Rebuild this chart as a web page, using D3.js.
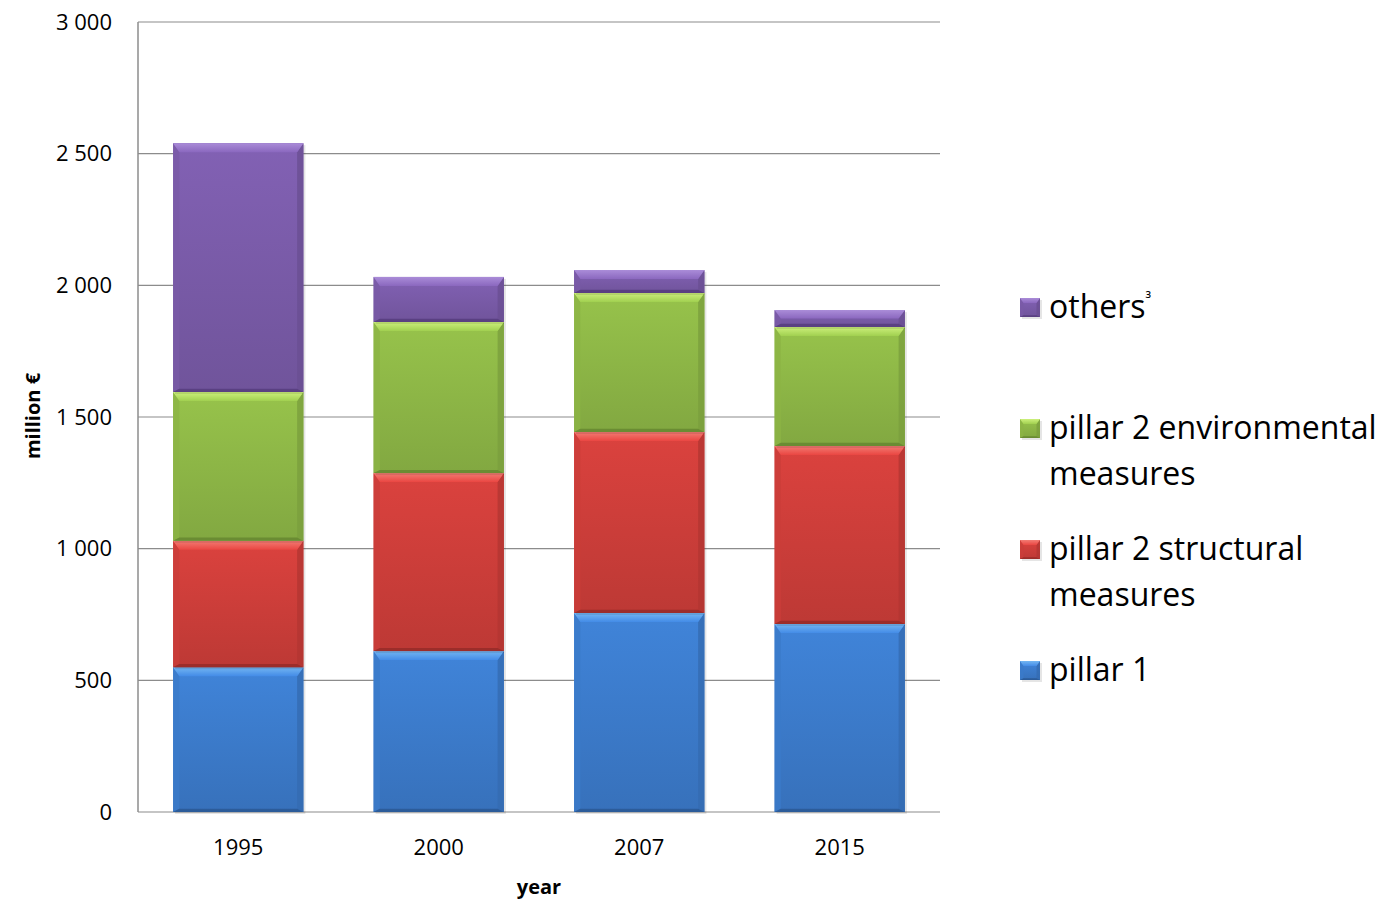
<!DOCTYPE html>
<html>
<head>
<meta charset="utf-8">
<script src="https://cdn.jsdelivr.net/npm/d3@7"></script>
<style>
	body { margin: 0; background: #fff; }
	text { font-family: 'Open Sans', sans-serif; fill: #000; }
</style>
</head>
<body>
<div id="canvas"></div>
<script>
// Data
const years = ['1995', '2000', '2007', '2015']
const pillar1 = [550, 611, 756, 714]
const structural = [480, 676, 687, 676]
const environmental = [565, 574, 528, 452]
const others = [945, 171, 87, 64]
const yTicks = [0, 500, 1000, 1500, 2000, 2500, 3000]

const seriesNames = ['pillar 1', 'pillar 2 structural', 'pillar 2 environmental', 'others']
const seriesValues = [pillar1, structural, environmental, others]

// Colours: base, light edge, dark edge
const colors = {
	'pillar 1': {base: '#3d7ed0', light: '#74b6f2', dark: '#2c5c9a'},
	'pillar 2 structural': {base: '#d23f3b', light: '#f27c74', dark: '#9c2d2a'},
	'pillar 2 environmental': {base: '#91bb48', light: '#cdf07c', dark: '#6a8c33'},
	'others': {base: '#7d5dac', light: '#aa8cd8', dark: '#5a4082'},
}

const width = 1396, height = 901
const margin = {left: 138, right: 456, top: 22, bottom: 89}
const svg = d3.select('#canvas').append('svg').attr('width', width).attr('height', height)
const defs = svg.append('defs')

const x = d3.scaleBand().domain(years).range([margin.left, width - margin.right]).paddingInner(0.35).paddingOuter(0.175)
const y = d3.scaleLinear().domain([0, 3000]).range([height - margin.bottom, margin.top])

// Gradients for bar faces and top bevels
Object.entries(colors).forEach(([name, c], i) => {
	const g = defs.append('linearGradient').attr('id', 'grad' + i).attr('x1', 0).attr('y1', 0).attr('x2', 0).attr('y2', 1)
	g.append('stop').attr('offset', '0%').attr('stop-color', d3.color(c.base).brighter(0.12))
	g.append('stop').attr('offset', '100%').attr('stop-color', d3.color(c.base).darker(0.3))
	const t = defs.append('linearGradient').attr('id', 'top' + i).attr('x1', 0).attr('y1', 0).attr('x2', 0).attr('y2', 1)
	t.append('stop').attr('offset', '0%').attr('stop-color', c.light)
	t.append('stop').attr('offset', '100%').attr('stop-color', d3.color(c.base).brighter(0.3))
})

// Gridlines
svg.append('g')
	.selectAll('line')
	.data(yTicks).enter()
	.append('line')
	.attr('x1', margin.left).attr('x2', width - margin.right)
	.attr('y1', d => y(d)).attr('y2', d => y(d))
	.attr('stroke', '#8c8c8c').attr('stroke-width', 1.2)

// Left axis line
svg.append('line')
	.attr('x1', margin.left).attr('x2', margin.left)
	.attr('y1', y(3000)).attr('y2', y(0))
	.attr('stroke', '#8c8c8c').attr('stroke-width', 1.5)

// Y tick labels
svg.append('g')
	.selectAll('text')
	.data(yTicks).enter()
	.append('text')
	.attr('x', 112).attr('y', d => y(d))
	.attr('dy', '0.35em')
	.attr('text-anchor', 'end')
	.attr('font-size', 22)
	.text(d => d3.format(',')(d).replace(',', ' '))

// X tick labels
svg.append('g')
	.selectAll('text')
	.data(years).enter()
	.append('text')
	.attr('x', d => x(d) + x.bandwidth() / 2)
	.attr('y', 847)
	.attr('dy', '0.35em')
	.attr('text-anchor', 'middle')
	.attr('font-size', 22)
	.text(d => d)

// Axis titles
svg.append('text')
	.attr('x', 539).attr('y', 887)
	.attr('dy', '0.35em')
	.attr('text-anchor', 'middle')
	.attr('font-size', 20).attr('font-weight', 'bold')
	.text('year')

svg.append('text')
	.attr('transform', 'translate(33,416) rotate(-90)')
	.attr('dy', '0.35em')
	.attr('text-anchor', 'middle')
	.attr('font-size', 20).attr('font-weight', 'bold')
	.text('million €')

// Stack
const table = years.map((yr, i) => {
	const row = {year: yr}
	seriesNames.forEach((s, j) => row[s] = seriesValues[j][i])
	return row
})
const stacked = d3.stack().keys(seriesNames)(table)

// Draw a bevelled block: top bevel wide, sides medium, bottom thin
function bevelBlock(g, x0, y0, w, h, c, gi, b) {
	const bt = Math.min(b, h / 2), bs = Math.min(b * 0.7, w / 2), bb = Math.min(b * 0.35, h / 4)
	const x1 = x0 + w, y1 = y0 + h
	// drop shadow
	g.append('rect').attr('x', x0 + 2).attr('y', y0 + 2).attr('width', w).attr('height', h)
		.attr('fill', '#000').attr('opacity', 0.1)
	g.append('rect').attr('x', x0).attr('y', y0).attr('width', w).attr('height', h).attr('fill', `url(#grad${gi})`)
	const poly = pts => g.append('polygon').attr('points', pts.map(p => p.join(',')).join(' '))
	poly([[x0, y0], [x0 + bs, y0 + bt], [x0 + bs, y1 - bb], [x0, y1]]).attr('fill', d3.color(c.base).darker(0.1)).attr('opacity', 0.8)
	poly([[x1, y0], [x1, y1], [x1 - bs, y1 - bb], [x1 - bs, y0 + bt]]).attr('fill', d3.color(c.base).darker(0.45)).attr('opacity', 0.8)
	poly([[x0, y1], [x0 + bs, y1 - bb], [x1 - bs, y1 - bb], [x1, y1]]).attr('fill', c.dark)
	poly([[x0, y0], [x1, y0], [x1 - bs, y0 + bt], [x0 + bs, y0 + bt]]).attr('fill', `url(#top${gi})`)
}

const barGroup = svg.append('g')
stacked.forEach((layer, li) => {
	const c = colors[layer.key]
	layer.forEach(d => {
		const x0 = x(d.data.year)
		const yTop = y(d[1]), yBot = y(d[0])
		bevelBlock(barGroup, x0, yTop, x.bandwidth(), yBot - yTop, c, li, 9)
	})
})

// Legend
const legendItems = [
	{key: 'others', lines: ['others'], sup: '³', cy: 307},
	{key: 'pillar 2 environmental', lines: ['pillar 2 environmental', 'measures'], cy: 428},
	{key: 'pillar 2 structural', lines: ['pillar 2 structural', 'measures'], cy: 549},
	{key: 'pillar 1', lines: ['pillar 1'], cy: 670},
]
const legend = svg.append('g')
legendItems.forEach((item, i) => {
	const c = colors[item.key]
	const gi = seriesNames.indexOf(item.key)
	bevelBlock(legend, 1020, item.cy - 9, 20, 19, c, gi, 5)
	item.lines.forEach((ln, k) => {
		const t = legend.append('text')
			.attr('x', 1049).attr('y', item.cy + k * 46)
			.attr('dy', '0.35em')
			.attr('font-size', 32)
			.text(ln)
		if (item.sup && k === 0) {
			t.append('tspan').attr('font-size', 16).attr('dy', '-0.9em').text(item.sup)
		}
	})
})
</script>
</body>
</html>
